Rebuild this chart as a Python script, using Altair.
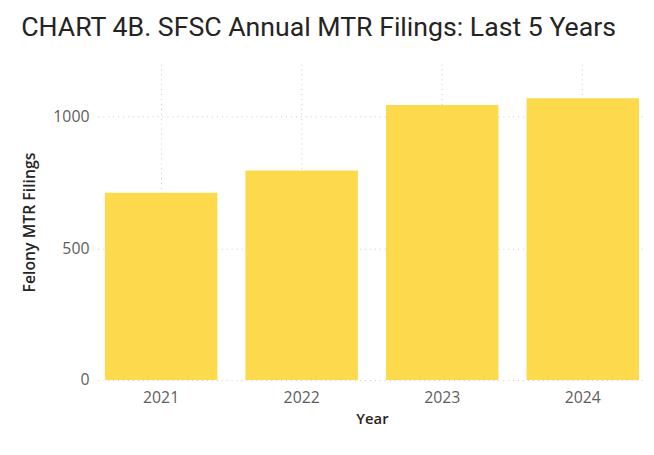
import altair as alt
import pandas as pd

years = ["2021", "2022", "2023", "2024"]
filings = [711, 796, 1044, 1070]

df = pd.DataFrame({"Year": years, "Filings": filings})

bars = alt.Chart(df).mark_bar(color="#FDD94C").encode(
    x=alt.X("Year:N", title="Year",
            scale=alt.Scale(paddingInner=0.2, paddingOuter=0.05),
            axis=alt.Axis(labelAngle=0, grid=True, gridDash=[1, 4], gridColor="#C8C6C4",
                          domain=False, ticks=False, labelPadding=10,
                          labelFontSize=16, labelColor="#605E5C", labelFont="Open Sans",
                          titleFontSize=15, titleColor="#252423", titleFont="Open Sans",
                          titleFontWeight=600, titlePadding=6)),
    y=alt.Y("Filings:Q", title="Felony MTR Filings",
            scale=alt.Scale(domain=[0, 1200], nice=False),
            axis=alt.Axis(values=[0, 500, 1000], format="d", grid=True, gridDash=[1, 4],
                          gridColor="#C8C6C4",
                          domain=False, ticks=False, labelPadding=9,
                          labelFontSize=16, labelColor="#605E5C", labelFont="Open Sans",
                          titleFontSize=16, titleColor="#252423", titleFont="Open Sans",
                          titleFontWeight=600, titlePadding=16)),
)

chart = bars.properties(
    width=555, height=320,
    title=alt.TitleParams("CHART 4B. SFSC Annual MTR Filings: Last 5 Years",
                          anchor="start", offset=22, fontSize=27,
                          font="Roboto", fontWeight="normal", color="#252423"),
    autosize=alt.AutoSizeParams(type="none"),
    padding={"left": 91, "top": 54, "right": 0, "bottom": 58},
    background="white",
).configure_view(stroke=None)

chart.save("out.html", embed_options={"renderer": "svg", "actions": False})
